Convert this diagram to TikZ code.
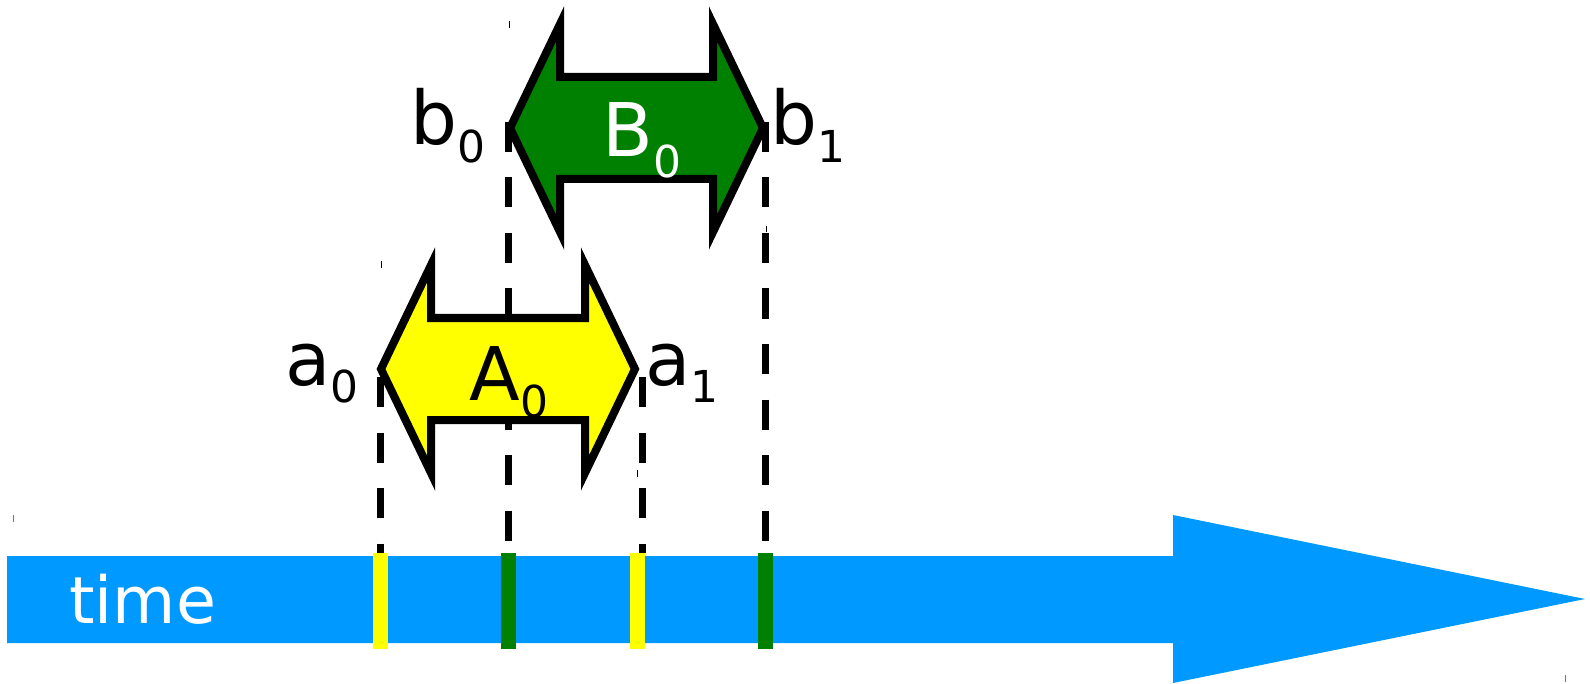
\documentclass[tikz,border=0pt]{standalone}
\usepackage{fontspec}
\setmainfont{DejaVu Sans}
\usetikzlibrary{positioning}
\usepackage{xcolor}

\definecolor{timeblue}{HTML}{0099FF}
\definecolor{ivgreen}{HTML}{008000}
\definecolor{ivyellow}{HTML}{FFFF00}

% letter with a lowered index
\newcommand{\ivlbl}[3][9pt]{#2\raisebox{-#1}{\fontsize{22}{24}\selectfont #3}}

\begin{document}
\begin{tikzpicture}[
	x=0.5pt, y=-0.5pt,
	tl/.style = {fill=timeblue},
	ya/.style = {draw=black, line width=4pt, fill=ivyellow},
	ga/.style = {draw=black, line width=4pt, fill=ivgreen},
	yt/.style = {rectangle, fill=ivyellow, inner sep=0pt, minimum width=7.5pt, minimum height=48pt},
	gt/.style = {rectangle, fill=ivgreen,  inner sep=0pt, minimum width=7.5pt, minimum height=48pt},
	dl/.style = {line width=3.5pt, dash pattern=on 15pt off 12.75pt},
	mk/.style = {line width=0.5pt},
	lb/.style = {inner sep=0pt, anchor=base west, font=\fontsize{37}{40}\selectfont}
	]
	\useasboundingbox (0,0) rectangle (1590,684);
	
	% === === Time axis === ===
	\fill[tl]	(7,556) -- (1173,556) -- (1173,515) -- (1585,599) -- (1173,683) -- (1173,643) -- (7,643) -- cycle;
	\node[inner sep=0pt, anchor=base west, text=white, font=\fontsize{32.5}{36}\selectfont]
		(time)	at	(69,623)	{time};
	
	% === === Ticks === ===
	\node[yt]	(ta0)	at	(380.5,601)	{};
	\node[gt]	(tb0)	at	(508.5,601)	{};
	\node[yt]	(ta1)	at	(637,601)	{};
	\node[gt]	(tb1)	at	(765,601)	{};
	
	% === === Lines === ===
	\coordinate	(a0end)	at	(380.5,377);
	\coordinate	(a1end)	at	(642,377);
	\coordinate	(b0end)	at	(508.5,122);
	\coordinate	(b1end)	at	(765,122);
	
	\draw[dl]	(a0end)	--	(a0end |- ta0.north);
	\draw[dl]	(a1end)	--	(a1end |- ta1.north);
	\draw[dl]	(b0end)	--	(tb0.north);
	\draw[dl]	(b1end)	--	(tb1.north);
	
	% === === Intervals === ===
	\draw[ya]	(381,369) -- (431,265) -- (431,318) -- (585,318) -- (585,265) -- (635,369)
		-- (585,473) -- (585,420) -- (431,420) -- (431,473) -- cycle;
	\draw[ga]	(510,128) -- (560,24) -- (560,77) -- (713,77) -- (713,24) -- (763,128)
		-- (713,232) -- (713,179) -- (560,179) -- (560,232) -- cycle;
	
	% === === Labels === ===
	\node[lb]	(lA0)	at	(469,400)	{\ivlbl{A}{0}};
	\node[lb, text=white]	(lB0)	at	(602,157)	{\ivlbl[10.5pt]{B}{0}};
	\node[lb]	(la0)	at	(285,385)	{\ivlbl{a}{0}};
	\node[lb]	(la1)	at	(645,385)	{\ivlbl{a}{1}};
	\node[lb]	(lb0)	at	(410,145)	{\ivlbl{b}{0}};
	\node[lb]	(lb1)	at	(770,145)	{\ivlbl{b}{1}};
	
	% small corner marks
	\draw[mk]	(509,21) -- (509,28);
	\draw[mk]	(766,226) -- (766,232);
	\draw[mk]	(381,261) -- (381,268);
	\draw[mk]	(637,470) -- (637,477);
	\draw[mk, timeblue]	(13,515) -- (13,522);
	\draw[mk, timeblue]	(1565,675) -- (1565,682);
	
\end{tikzpicture}
\end{document}
